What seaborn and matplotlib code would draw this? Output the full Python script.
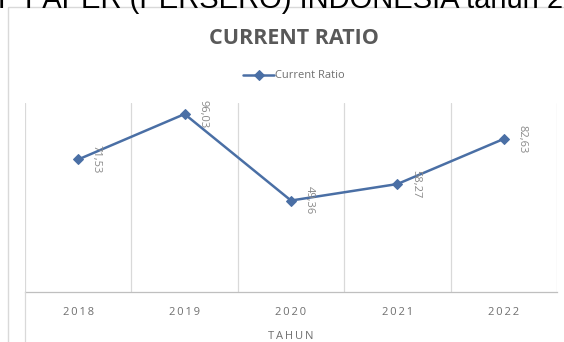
import matplotlib
matplotlib.use("Agg")
import matplotlib.pyplot as plt
import seaborn as sns
import pandas as pd
from matplotlib.patches import Rectangle
from matplotlib.lines import Line2D

years = ["2018", "2019", "2020", "2021", "2022"]
current_ratio = [71.53, 96.03, 49.36, 58.27, 82.63]
value_labels = ["71,53", "96,03", "49,36", "58,27", "82,63"]
series_name = "Current Ratio"
title = "CURRENT RATIO"
x_title = "TAHUN"
caption = "P PAPER (PERSERO) INDONESIA tahun 2"

df = pd.DataFrame({"Tahun": years, series_name: current_ratio})

sns.set_theme(style="white")
plt.rcParams["font.family"] = ["Open Sans", "DejaVu Sans"]

def spaced(s):
    return "\u2009".join(s)

fig = plt.figure(figsize=(5.64, 3.42), dpi=100)
fig.patch.set_facecolor("white")
ax = fig.add_axes([25/564, 1-292/342, (557-25)/564, (292-103)/342])

line_color = "#4a6fa5"
sns.lineplot(data=df, x="Tahun", y=series_name, ax=ax, color=line_color,
             marker="D", markersize=5, linewidth=1.8, label=series_name,
             markeredgecolor=line_color, sort=False)

ax.set_xlim(-0.5, len(years) - 0.5)
ax.set_ylim(0, 102)
ax.set_yticks([])
ax.set_ylabel("")
for b in [i - 0.5 for i in range(len(years) + 1)]:
    ax.axvline(b, color="#d9d9d9", linewidth=0.9, zorder=0)
for s in ["top", "right", "left"]:
    ax.spines[s].set_visible(False)
ax.spines["bottom"].set_color("#bfbfbf")
ax.spines["bottom"].set_linewidth(0.9)

ax.set_xticks(range(len(years)))
ax.set_xticklabels([spaced(y) for y in years])
ax.tick_params(axis="x", length=0, pad=11, labelsize=8, labelcolor="#6f6f6f")
ax.set_xlabel(spaced(x_title), fontsize=8, color="#6f6f6f", labelpad=9)

for i, (v, lab) in enumerate(zip(current_ratio, value_labels)):
    ax.annotate(lab, (i, v), xytext=(13, 0), textcoords="offset points",
                rotation=-90, ha="center", va="center", fontsize=8,
                color="#8a8a8a")

leg = ax.legend(loc="center", bbox_to_anchor=(294/564, 1 - 76/342), bbox_transform=fig.transFigure,
                frameon=False, fontsize=8, handlelength=2.8, handletextpad=0.1)
for t in leg.get_texts():
    t.set_color("#6f6f6f")

fig.text(294/564, 1 - 39/342, title, ha="center", va="center", fontsize=15.5,
         fontweight="bold", color="#595959")

fig.text(-2/564, 1 - 8/342, caption, ha="left", va="baseline", fontsize=21,
         color="black", family=["Liberation Sans", "DejaVu Sans"])

fig.patches.append(Rectangle((8/564, 1 - 7/342), 1.2, -1.2, transform=fig.transFigure,
                             fill=False, edgecolor="#d9d9d9", linewidth=1.0))
fig.lines.append(Line2D([25/564, 25/564], [0, 1 - 292/342], transform=fig.transFigure,
                        color="#d9d9d9", linewidth=0.9))

fig.savefig("out.png", dpi=100, facecolor="white")
